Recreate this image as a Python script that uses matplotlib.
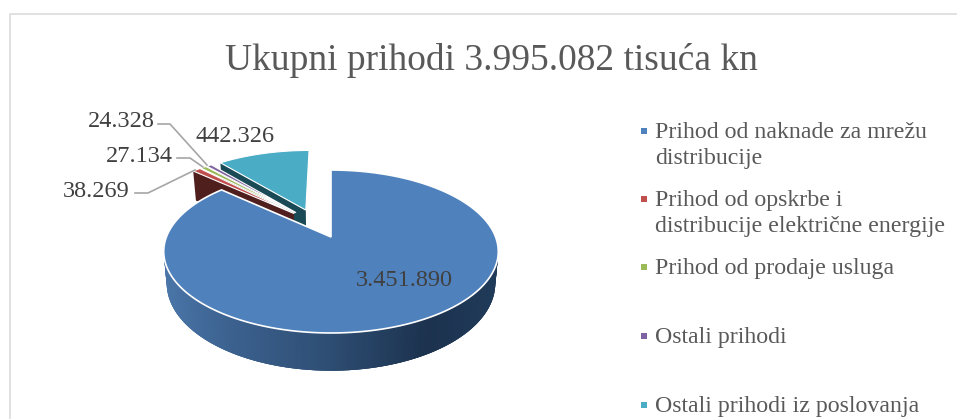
import numpy as np
import matplotlib
matplotlib.use('Agg')
import matplotlib.pyplot as plt

plt.rcParams['font.family'] = ['Liberation Serif', 'DejaVu Serif']

title = 'Ukupni prihodi 3.995.082 tisuća kn'
categories = ['Prihod od naknade za mrežu\ndistribucije',
              'Prihod od opskrbe i\ndistribucije električne energije',
              'Prihod od prodaje usluga',
              'Ostali prihodi',
              'Ostali prihodi iz poslovanja']
values = [3451890, 38269, 27134, 24328, 442326]
value_labels = ['3.451.890', '38.269', '27.134', '24.328', '442.326']
colors = ['#4f81bd', '#c0504d', '#9bbb59', '#8064a2', '#4bacc6']
wall_colors = {1: '#4f1f1e', 4: '#1b4a57'}

# view of the pie, in pixels of the picture
tip_x, tip_y = 331, 237
radius = 164.6
squash = 78.9
persp = 0.178
depth = 31
narrow = 0.018   # lower rim is a bit smaller than the top
explode = 0.196
small_shift = -2.5

shares = np.array(values) / sum(values)
edges = np.concatenate([[0], np.cumsum(shares)]) * 2 * np.pi
mids = (edges[:-1] + edges[1:]) / 2
# plane position of the main slice tip, everything is drawn relative to it
ox = explode * np.sin(mids[0])
oy = explode * np.cos(mids[0])


def project(x, y, z=0.0):
    px = x - ox
    py = y - oy
    w = 1 + persp * py
    return tip_x + radius * px * (1 - narrow * z) / w, tip_y - squash * py / w + depth * z / w


def slice_top(i):
    dx = explode * np.sin(mids[i])
    dy = explode * np.cos(mids[i])
    t = np.linspace(edges[i], edges[i + 1], 300)
    xs = np.concatenate([[dx], dx + np.sin(t), [dx]])
    ys = np.concatenate([[dy], dy + np.cos(t), [dy]])
    sx, sy = project(xs, ys)
    if i > 0:
        sx = sx + small_shift
    return sx, sy


def cut_wall(i):
    # the flat face under the first edge of a slice
    dx = explode * np.sin(mids[i])
    dy = explode * np.cos(mids[i])
    ex, ey = dx + np.sin(edges[i]), dy + np.cos(edges[i])
    xs = np.array([dx, ex, ex, dx])
    ys = np.array([dy, ey, ey, dy])
    zs = np.array([0, 0, 1.12, 1.12])
    sx, sy = project(xs, ys, zs)
    return sx + small_shift, sy


fig = plt.figure(figsize=(9.57, 4.19), dpi=100)
ax = fig.add_axes([0, 0, 1, 1])
ax.set_xlim(0, 957)
ax.set_ylim(419, 0)
ax.axis('off')

# chart frame
ax.plot([9.5, 9.5, 957], [419, 14.5, 14.5], color='#d9d9d9', lw=1.1)

ax.text(491, 60.5, title, ha='center', va='center', fontsize=27, color='#595959')

# slices from back to front
for i in [4, 3, 2, 1]:
    if i in wall_colors:
        ax.fill(*cut_wall(i), color=wall_colors[i], lw=0)
    ax.fill(*slice_top(i), facecolor=colors[i], edgecolor='white', lw=0.8)

# curved side of the main slice, shaded from left to right
dx0 = explode * np.sin(mids[0])
dy0 = explode * np.cos(mids[0])
side_t = np.linspace(3 * np.pi / 2 + 0.1, np.pi / 2 - 0.1, 240)
stop_pos = [165, 230, 330, 430, 499]
stop_rgb = np.array([[0x4a, 0x76, 0xa8], [0x3c, 0x62, 0x90], [0x2e, 0x4e, 0x74],
                     [0x1c, 0x32, 0x4e], [0x20, 0x3b, 0x5a]]) / 255
for a, b in zip(side_t[:-1], side_t[1:]):
    # each strip runs under the next one so no seams show
    b2 = b - 0.03
    ta = np.array([a, b2, b2, a])
    zs = np.array([0, 0, 1, 1])
    sx, sy = project(dx0 + np.sin(ta), dy0 + np.cos(ta), zs)
    c = [np.interp(sx.mean(), stop_pos, stop_rgb[:, k]) for k in range(3)]
    ax.fill(sx, sy, color=c, lw=0)

ax.fill(*slice_top(0), facecolor=colors[0], edgecolor='white', lw=1.2)

# value labels
label_pos = [(404, 280), (96, 191.5), (139, 156), (121, 121.5), (235, 136)]
label_col = '#404040'
for txt, (lx, ly) in zip(value_labels, label_pos):
    ax.text(lx, ly, txt, ha='center', va='center', fontsize=17.5, color=label_col)

# leader lines
leaders = [([135, 148, 195], [193, 193, 170]),
           ([177, 190, 203], [158, 158, 167]),
           ([158, 170, 207], [124, 124, 165])]
for lx, ly in leaders:
    ax.plot(lx, ly, color='#a6a6a6', lw=1.2)

# legend
legend_y = [131, 199, 267, 336, 405]
for name, c, y in zip(categories, colors, legend_y):
    ax.plot(643.5, y, marker='s', ms=4.5, color=c, mew=0, ls='none')
    ax.text(655, y - 9, name, ha='left', va='top', fontsize=17.2, color='#595959',
            linespacing=1.33)

fig.savefig('out.png', dpi=100)
